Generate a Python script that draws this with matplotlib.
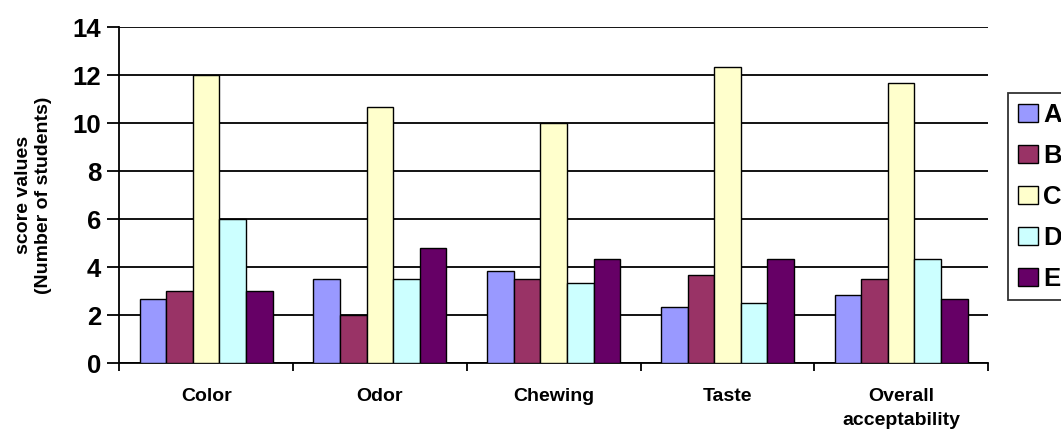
import matplotlib
matplotlib.use("Agg")
import matplotlib.pyplot as plt
import numpy as np

categories = ["Color", "Odor", "Chewing", "Taste", "Overall\nacceptability"]
series_names = ["A", "B", "C", "D", "E"]
A = [2.67, 3.5, 3.83, 2.33, 2.83]
B = [3.0, 2.0, 3.5, 3.67, 3.5]
C = [12.0, 10.67, 10.0, 12.33, 11.67]
D = [6.0, 3.5, 3.33, 2.5, 4.33]
E = [3.0, 4.8, 4.33, 4.33, 2.67]
colors = ["#9999FF", "#993366", "#FFFFCC", "#CCFFFF", "#660066"]
yticks = [0, 2, 4, 6, 8, 10, 12, 14]

plt.rcParams['font.family'] = ['Liberation Sans', 'DejaVu Sans']

fig = plt.figure(figsize=(10.61, 4.30), dpi=100)
ax = fig.add_axes([119.3/1061, 1-363.3/430, (988-119.3)/1061, (363.3-27.3)/430])

data = [A, B, C, D, E]
n = len(series_names)
bw = 0.153
x = np.arange(len(categories))
for i, (vals, name, col) in enumerate(zip(data, series_names, colors)):
    offs = (i - (n - 1) / 2) * bw
    ax.bar(x + offs, vals, width=bw, color=col, edgecolor="black",
           linewidth=1.0, label=name, zorder=3)

ax.set_xlim(-0.5, len(categories) - 0.5)
ax.set_ylim(0, 14)
ax.set_yticks(yticks)
ax.set_yticklabels([str(t) for t in yticks], fontsize=18.5, fontweight="bold")
ax.yaxis.grid(True, color="black", linewidth=1.3, zorder=0)
ax.set_axisbelow(True)

ax.set_xticks(np.arange(len(categories) + 1) - 0.5)
ax.set_xticklabels([])
ax.set_xticks(x, minor=True)
ax.set_xticklabels(categories, minor=True, fontsize=14, fontweight="bold",
                   linespacing=1.5)
ax.tick_params(axis="x", which="major", direction="out", length=6, width=1.3, color="black")
ax.tick_params(axis="x", which="minor", length=0, pad=18)
ax.tick_params(axis="y", direction="out", length=9, width=1.3, pad=4)

for s in ["top", "right"]:
    ax.spines[s].set_visible(False)
for s in ["left", "bottom"]:
    ax.spines[s].set_linewidth(1.3)
    ax.spines[s].set_color("black")

ax.set_ylabel("score values\n(Number of students)", fontsize=14, fontweight="bold",
              labelpad=15, linespacing=1.2)

leg = fig.legend(loc="upper left", bbox_to_anchor=(1008/1061, 1-93/430),
                 frameon=True, fancybox=False, edgecolor="black",
                 prop={"size": 18.5, "weight": "bold"},
                 handlelength=0.78, handleheight=0.7, handletextpad=0.22,
                 labelspacing=0.66, borderpad=0.38, borderaxespad=0)
leg.get_frame().set_linewidth(1.3)

fig.savefig("out.png", dpi=100)
